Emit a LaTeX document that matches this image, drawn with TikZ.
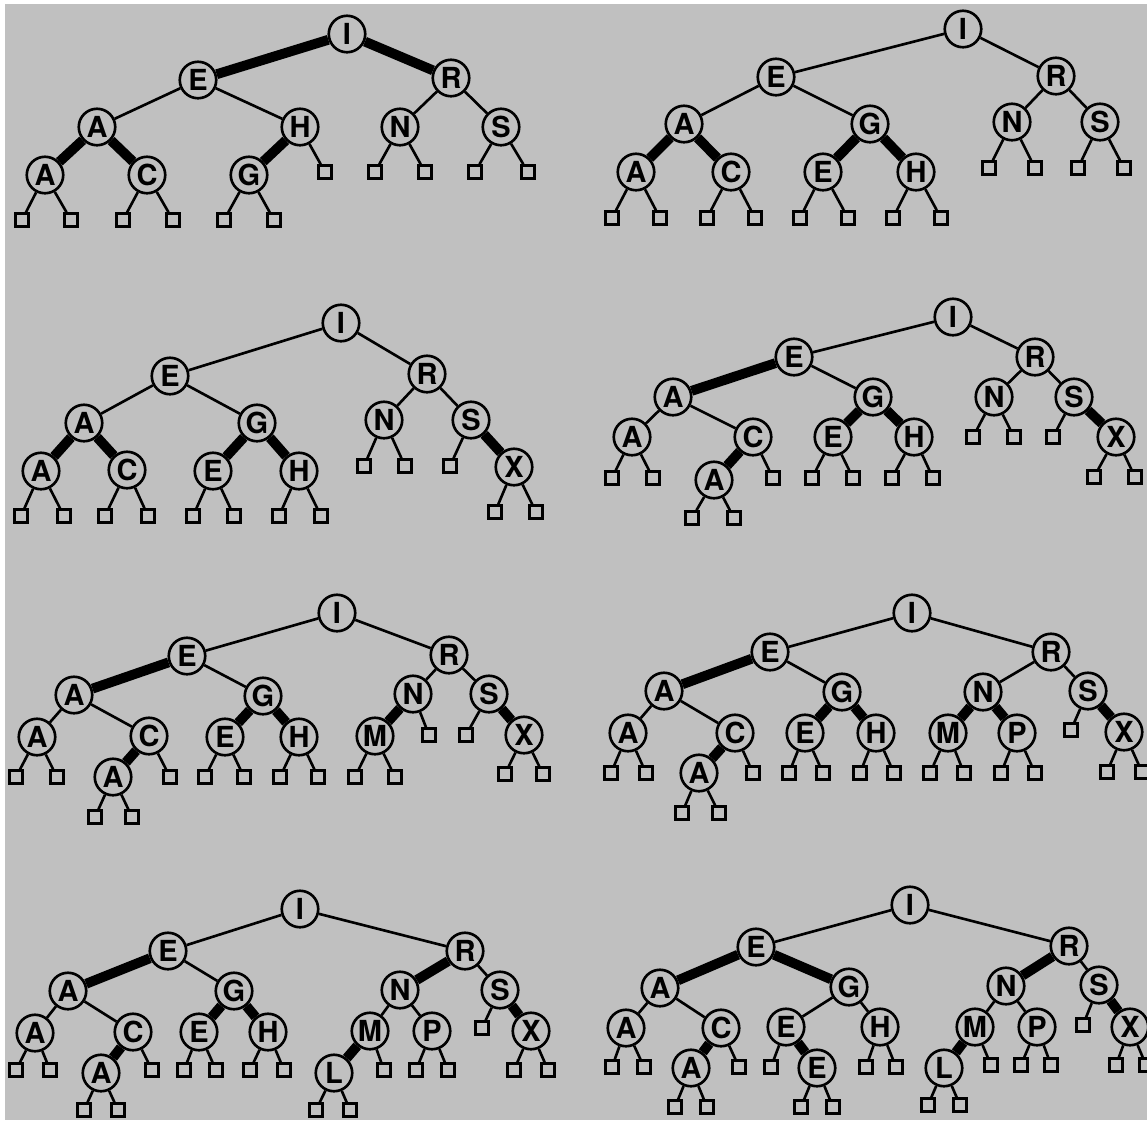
\documentclass[tikz,border=0pt]{standalone}
\usepackage{fontspec}
\setsansfont{TeX Gyre Heros}
\usetikzlibrary{positioning}
\definecolor{scan}{RGB}{192,192,192}

\begin{document}
\begin{tikzpicture}[
    x=0.02cm, y=-0.02cm,
    rb/.style={circle, draw, line width=1.5pt, fill=scan, minimum size=0.73cm, inner sep=0pt, font=\sffamily\bfseries\fontsize{16.5}{16.5}\selectfont},
    leaf/.style={rectangle, draw, line width=1.7pt, fill=scan, minimum size=0.25cm, inner sep=0pt},
    blk/.style={line width=1.5pt},
    rl/.style={line width=5.6pt}
]
\useasboundingbox (0,0) rectangle (1147,1120);
\fill[white] (0,0) rectangle (1147,1120);
\fill[scan] (5,4) rectangle (1147,1120);

% tree 1
\node[rb] (aI) at (347,34) {I};
\node[rb] (aE) at (198,80) {E};
\node[rb] (aR) at (451,78) {R};
\node[rb] (aA) at (97,127) {A};
\node[rb] (aH) at (300,127) {H};
\node[rb] (aN) at (400,127) {N};
\node[rb] (aS) at (501,127) {S};
\node[rb] (aAA) at (45,175) {A};
\node[rb] (aC) at (147,175) {C};
\node[rb] (aG) at (249,175) {G};
\node[leaf] (ax1) at (22,220) {};  \node[leaf] (ax2) at (71,220) {};
\node[leaf] (ax3) at (123,220) {}; \node[leaf] (ax4) at (173,220) {};
\node[leaf] (ax5) at (224,220) {}; \node[leaf] (ax6) at (274,220) {};
\node[leaf] (ax7) at (325,172) {};
\node[leaf] (ax8) at (375,172) {}; \node[leaf] (ax9) at (425,172) {};
\node[leaf] (ax10) at (475,172) {}; \node[leaf] (ax11) at (528,172) {};
\draw[rl] (aI) -- (aE) (aI) -- (aR) (aA) -- (aAA) (aA) -- (aC) (aH) -- (aG);
\draw[blk] (aE) -- (aA) (aE) -- (aH) (aR) -- (aN) (aR) -- (aS);
\draw[blk] (aAA) -- (ax1) (aAA) -- (ax2) (aC) -- (ax3) (aC) -- (ax4) (aG) -- (ax5) (aG) -- (ax6)
    (aH) -- (ax7) (aN) -- (ax8) (aN) -- (ax9) (aS) -- (ax10) (aS) -- (ax11);

% tree 2
\node[rb] (bI) at (963,29) {I};
\node[rb] (bE) at (776,77) {E};
\node[rb] (bR) at (1056,76) {R};
\node[rb] (bA) at (684,124) {A};
\node[rb] (bG) at (870,124) {G};
\node[rb] (bN) at (1012,122) {N};
\node[rb] (bS) at (1100,122) {S};
\node[rb] (bAA) at (636,172) {A};
\node[rb] (bC) at (731,172) {C};
\node[rb] (bE2) at (823,172) {E};
\node[rb] (bH) at (916,172) {H};
\node[leaf] (bx1) at (612,218) {}; \node[leaf] (bx2) at (660,218) {};
\node[leaf] (bx3) at (707,218) {}; \node[leaf] (bx4) at (755,218) {};
\node[leaf] (bx5) at (800,218) {}; \node[leaf] (bx6) at (848,218) {};
\node[leaf] (bx7) at (893,218) {}; \node[leaf] (bx8) at (941,218) {};
\node[leaf] (bx9) at (989,168) {}; \node[leaf] (bx10) at (1035,168) {};
\node[leaf] (bx11) at (1078,168) {}; \node[leaf] (bx12) at (1124,168) {};
\draw[rl] (bA) -- (bAA) (bA) -- (bC) (bG) -- (bE2) (bG) -- (bH);
\draw[blk] (bI) -- (bE) (bI) -- (bR) (bE) -- (bA) (bE) -- (bG) (bR) -- (bN) (bR) -- (bS);
\draw[blk] (bAA) -- (bx1) (bAA) -- (bx2) (bC) -- (bx3) (bC) -- (bx4) (bE2) -- (bx5) (bE2) -- (bx6)
    (bH) -- (bx7) (bH) -- (bx8) (bN) -- (bx9) (bN) -- (bx10) (bS) -- (bx11) (bS) -- (bx12);

% tree 3
\node[rb] (cI) at (341,323) {I};
\node[rb] (cE) at (170,376) {E};
\node[rb] (cR) at (427,374) {R};
\node[rb] (cA) at (84,423) {A};
\node[rb] (cG) at (257,423) {G};
\node[rb] (cN) at (384,420) {N};
\node[rb] (cS) at (471,420) {S};
\node[rb] (cAA) at (41,471) {A};
\node[rb] (cC) at (127,470) {C};
\node[rb] (cE2) at (213,471) {E};
\node[rb] (cH) at (299,471) {H};
\node[rb] (cX) at (514,467) {X};
\node[leaf] (cx1) at (21,516) {};  \node[leaf] (cx2) at (64,516) {};
\node[leaf] (cx3) at (105,516) {}; \node[leaf] (cx4) at (148,516) {};
\node[leaf] (cx5) at (193,516) {}; \node[leaf] (cx6) at (234,516) {};
\node[leaf] (cx7) at (279,516) {}; \node[leaf] (cx8) at (321,516) {};
\node[leaf] (cx9) at (364,466) {}; \node[leaf] (cx10) at (405,466) {};
\node[leaf] (cx11) at (450,466) {};
\node[leaf] (cx12) at (495,512) {}; \node[leaf] (cx13) at (536,512) {};
\draw[rl] (cA) -- (cAA) (cA) -- (cC) (cG) -- (cE2) (cG) -- (cH) (cS) -- (cX);
\draw[blk] (cI) -- (cE) (cI) -- (cR) (cE) -- (cA) (cE) -- (cG) (cR) -- (cN) (cR) -- (cS);
\draw[blk] (cAA) -- (cx1) (cAA) -- (cx2) (cC) -- (cx3) (cC) -- (cx4) (cE2) -- (cx5) (cE2) -- (cx6)
    (cH) -- (cx7) (cH) -- (cx8) (cN) -- (cx9) (cN) -- (cx10) (cS) -- (cx11) (cX) -- (cx12) (cX) -- (cx13);

% tree 4
\node[rb] (dI) at (953,317) {I};
\node[rb] (dE) at (794,357) {E};
\node[rb] (dR) at (1035,357) {R};
\node[rb] (dA) at (673,397) {A};
\node[rb] (dG) at (873,397) {G};
\node[rb] (dN) at (994,397) {N};
\node[rb] (dS) at (1074,397) {S};
\node[rb] (dAA) at (632,437) {A};
\node[rb] (dC) at (753,437) {C};
\node[rb] (dE2) at (833,437) {E};
\node[rb] (dH) at (914,437) {H};
\node[rb] (dX) at (1116,437) {X};
\node[rb] (dA2) at (714,480) {A};
\node[leaf] (dx1) at (612,478) {}; \node[leaf] (dx2) at (653,478) {};
\node[leaf] (dx3) at (773,478) {};
\node[leaf] (dx4) at (812,478) {}; \node[leaf] (dx5) at (853,478) {};
\node[leaf] (dx6) at (892,478) {}; \node[leaf] (dx7) at (933,478) {};
\node[leaf] (dx8) at (973,437) {}; \node[leaf] (dx9) at (1014,437) {};
\node[leaf] (dx10) at (1053,437) {};
\node[leaf] (dx11) at (1094,477) {}; \node[leaf] (dx12) at (1135,477) {};
\node[leaf] (dx13) at (692,518) {}; \node[leaf] (dx14) at (734,518) {};
\draw[rl] (dE) -- (dA) (dC) -- (dA2) (dG) -- (dE2) (dG) -- (dH) (dS) -- (dX);
\draw[blk] (dI) -- (dE) (dI) -- (dR) (dE) -- (dG) (dA) -- (dAA) (dA) -- (dC) (dR) -- (dN) (dR) -- (dS);
\draw[blk] (dAA) -- (dx1) (dAA) -- (dx2) (dC) -- (dx3) (dE2) -- (dx4) (dE2) -- (dx5)
    (dH) -- (dx6) (dH) -- (dx7) (dN) -- (dx8) (dN) -- (dx9) (dS) -- (dx10)
    (dX) -- (dx11) (dX) -- (dx12) (dA2) -- (dx13) (dA2) -- (dx14);

% tree 5
\node[rb] (eI) at (337,613) {I};
\node[rb] (eE) at (187,656) {E};
\node[rb] (eR) at (449,655) {R};
\node[rb] (eA) at (74,695) {A};
\node[rb] (eG) at (263,696) {G};
\node[rb] (eN) at (413,694) {N};
\node[rb] (eS) at (489,694) {S};
\node[rb] (eAA) at (37,737) {A};
\node[rb] (eC) at (149,736) {C};
\node[rb] (eE2) at (225,737) {E};
\node[rb] (eH) at (299,737) {H};
\node[rb] (eM) at (375,736) {M};
\node[rb] (eX) at (524,735) {X};
\node[rb] (eA2) at (113,777) {A};
\node[leaf] (ex1) at (16,777) {};  \node[leaf] (ex2) at (57,777) {};
\node[leaf] (ex3) at (170,777) {};
\node[leaf] (ex4) at (205,777) {}; \node[leaf] (ex5) at (244,777) {};
\node[leaf] (ex6) at (280,777) {}; \node[leaf] (ex7) at (318,777) {};
\node[leaf] (ex8) at (355,777) {}; \node[leaf] (ex9) at (395,777) {};
\node[leaf] (ex10) at (429,735) {}; \node[leaf] (ex11) at (466,735) {};
\node[leaf] (ex12) at (505,774) {}; \node[leaf] (ex13) at (543,774) {};
\node[leaf] (ex14) at (95,817) {}; \node[leaf] (ex15) at (132,817) {};
\draw[rl] (eE) -- (eA) (eC) -- (eA2) (eG) -- (eE2) (eG) -- (eH) (eN) -- (eM) (eS) -- (eX);
\draw[blk] (eI) -- (eE) (eI) -- (eR) (eE) -- (eG) (eA) -- (eAA) (eA) -- (eC) (eR) -- (eN) (eR) -- (eS);
\draw[blk] (eAA) -- (ex1) (eAA) -- (ex2) (eC) -- (ex3) (eE2) -- (ex4) (eE2) -- (ex5)
    (eH) -- (ex6) (eH) -- (ex7) (eM) -- (ex8) (eM) -- (ex9) (eN) -- (ex10) (eS) -- (ex11)
    (eX) -- (ex12) (eX) -- (ex13) (eA2) -- (ex14) (eA2) -- (ex15);

% tree 6
\node[rb] (fI) at (912,613) {I};
\node[rb] (fE) at (770,652) {E};
\node[rb] (fR) at (1051,652) {R};
\node[rb] (fA) at (664,691) {A};
\node[rb] (fG) at (842,692) {G};
\node[rb] (fN) at (983,692) {N};
\node[rb] (fS) at (1088,691) {S};
\node[rb] (fAA) at (628,733) {A};
\node[rb] (fC) at (735,733) {C};
\node[rb] (fE2) at (805,733) {E};
\node[rb] (fH) at (876,733) {H};
\node[rb] (fM) at (948,733) {M};
\node[rb] (fP) at (1017,733) {P};
\node[rb] (fX) at (1124,732) {X};
\node[rb] (fA2) at (699,773) {A};
\node[leaf] (fx1) at (611,773) {}; \node[leaf] (fx2) at (646,773) {};
\node[leaf] (fx3) at (753,773) {};
\node[leaf] (fx4) at (789,773) {}; \node[leaf] (fx5) at (823,773) {};
\node[leaf] (fx6) at (860,773) {}; \node[leaf] (fx7) at (894,773) {};
\node[leaf] (fx8) at (930,773) {}; \node[leaf] (fx9) at (964,773) {};
\node[leaf] (fx10) at (1001,773) {}; \node[leaf] (fx11) at (1035,773) {};
\node[leaf] (fx12) at (1071,730) {};
\node[leaf] (fx13) at (1107,772) {}; \node[leaf] (fx14) at (1142,772) {};
\node[leaf] (fx15) at (682,813) {}; \node[leaf] (fx16) at (719,813) {};
\draw[rl] (fE) -- (fA) (fC) -- (fA2) (fG) -- (fE2) (fG) -- (fH) (fN) -- (fM) (fN) -- (fP) (fS) -- (fX);
\draw[blk] (fI) -- (fE) (fI) -- (fR) (fE) -- (fG) (fA) -- (fAA) (fA) -- (fC) (fR) -- (fN) (fR) -- (fS);
\draw[blk] (fAA) -- (fx1) (fAA) -- (fx2) (fC) -- (fx3) (fE2) -- (fx4) (fE2) -- (fx5)
    (fH) -- (fx6) (fH) -- (fx7) (fM) -- (fx8) (fM) -- (fx9) (fP) -- (fx10) (fP) -- (fx11)
    (fS) -- (fx12) (fX) -- (fx13) (fX) -- (fx14) (fA2) -- (fx15) (fA2) -- (fx16);

% tree 7
\node[rb] (gI) at (300,909) {I};
\node[rb] (gE) at (168,951) {E};
\node[rb] (gR) at (465,951) {R};
\node[rb] (gA) at (68,991) {A};
\node[rb] (gG) at (234,991) {G};
\node[rb] (gN) at (400,990) {N};
\node[rb] (gS) at (500,990) {S};
\node[rb] (gAA) at (35,1033) {A};
\node[rb] (gC) at (133,1032) {C};
\node[rb] (gE2) at (199,1032) {E};
\node[rb] (gH) at (268,1032) {H};
\node[rb] (gM) at (370,1031) {M};
\node[rb] (gP) at (432,1031) {P};
\node[rb] (gX) at (531,1031) {X};
\node[rb] (gA2) at (101,1073) {A};
\node[rb] (gL) at (334,1073) {L};
\node[leaf] (gx1) at (16,1070) {};  \node[leaf] (gx2) at (50,1070) {};
\node[leaf] (gx3) at (152,1070) {};
\node[leaf] (gx4) at (184,1070) {}; \node[leaf] (gx5) at (216,1070) {};
\node[leaf] (gx6) at (250,1070) {}; \node[leaf] (gx7) at (284,1070) {};
\node[leaf] (gx8) at (384,1070) {};
\node[leaf] (gx9) at (416,1070) {}; \node[leaf] (gx10) at (448,1070) {};
\node[leaf] (gx11) at (482,1028) {};
\node[leaf] (gx12) at (514,1070) {}; \node[leaf] (gx13) at (548,1070) {};
\node[leaf] (gx14) at (84,1110) {}; \node[leaf] (gx15) at (118,1110) {};
\node[leaf] (gx16) at (316,1110) {}; \node[leaf] (gx17) at (350,1110) {};
\draw[rl] (gE) -- (gA) (gC) -- (gA2) (gG) -- (gE2) (gG) -- (gH) (gR) -- (gN) (gM) -- (gL) (gS) -- (gX);
\draw[blk] (gI) -- (gE) (gI) -- (gR) (gE) -- (gG) (gA) -- (gAA) (gA) -- (gC) (gN) -- (gM) (gN) -- (gP) (gR) -- (gS);
\draw[blk] (gAA) -- (gx1) (gAA) -- (gx2) (gC) -- (gx3) (gE2) -- (gx4) (gE2) -- (gx5)
    (gH) -- (gx6) (gH) -- (gx7) (gM) -- (gx8) (gP) -- (gx9) (gP) -- (gx10) (gS) -- (gx11)
    (gX) -- (gx12) (gX) -- (gx13) (gA2) -- (gx14) (gA2) -- (gx15) (gL) -- (gx16) (gL) -- (gx17);

% tree 8
\node[rb] (hI) at (910,905) {I};
\node[rb] (hE) at (756,947) {E};
\node[rb] (hR) at (1069,946) {R};
\node[rb] (hA) at (660,988) {A};
\node[rb] (hG) at (849,987) {G};
\node[rb] (hN) at (1006,986) {N};
\node[rb] (hS) at (1099,985) {S};
\node[rb] (hAA) at (626,1028) {A};
\node[rb] (hC) at (721,1028) {C};
\node[rb] (hE2) at (786,1027) {E};
\node[rb] (hH) at (880,1027) {H};
\node[rb] (hM) at (975,1027) {M};
\node[rb] (hP) at (1037,1027) {P};
\node[rb] (hX) at (1130,1027) {X};
\node[rb] (hA2) at (691,1068) {A};
\node[rb] (hE3) at (817,1068) {E};
\node[rb] (hL) at (944,1068) {L};
\node[leaf] (hx1) at (612,1067) {}; \node[leaf] (hx2) at (644,1067) {};
\node[leaf] (hx3) at (739,1067) {};
\node[leaf] (hx4) at (771,1067) {};
\node[leaf] (hx5) at (866,1067) {}; \node[leaf] (hx6) at (896,1067) {};
\node[leaf] (hx7) at (991,1065) {};
\node[leaf] (hx8) at (1021,1065) {}; \node[leaf] (hx9) at (1051,1065) {};
\node[leaf] (hx10) at (1083,1025) {};
\node[leaf] (hx11) at (1116,1065) {}; \node[leaf] (hx12) at (1146,1065) {};
\node[leaf] (hx13) at (675,1107) {}; \node[leaf] (hx14) at (707,1107) {};
\node[leaf] (hx15) at (801,1107) {}; \node[leaf] (hx16) at (833,1107) {};
\node[leaf] (hx17) at (928,1105) {}; \node[leaf] (hx18) at (960,1105) {};
\draw[rl] (hE) -- (hA) (hE) -- (hG) (hC) -- (hA2) (hE2) -- (hE3) (hR) -- (hN) (hM) -- (hL) (hS) -- (hX);
\draw[blk] (hI) -- (hE) (hI) -- (hR) (hA) -- (hAA) (hA) -- (hC) (hG) -- (hE2) (hG) -- (hH) (hN) -- (hM) (hN) -- (hP) (hR) -- (hS);
\draw[blk] (hAA) -- (hx1) (hAA) -- (hx2) (hC) -- (hx3) (hE2) -- (hx4) (hH) -- (hx5) (hH) -- (hx6)
    (hM) -- (hx7) (hP) -- (hx8) (hP) -- (hx9) (hS) -- (hx10) (hX) -- (hx11) (hX) -- (hx12)
    (hA2) -- (hx13) (hA2) -- (hx14) (hE3) -- (hx15) (hE3) -- (hx16) (hL) -- (hx17) (hL) -- (hx18);
\end{tikzpicture}
\end{document}
